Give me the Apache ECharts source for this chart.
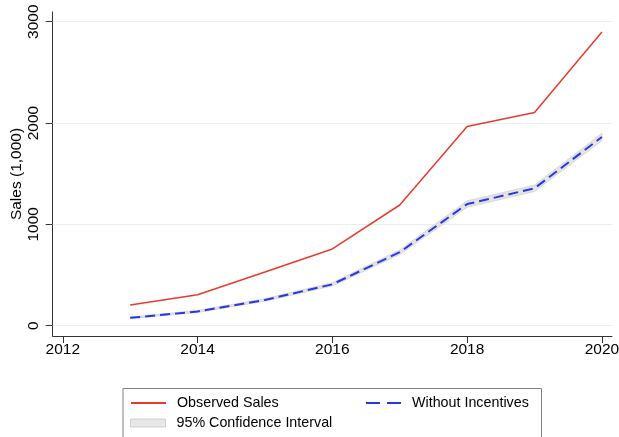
<!DOCTYPE html>
<html>
<head>
<meta charset="utf-8">
<script src="https://cdn.jsdelivr.net/npm/echarts@6/dist/echarts.min.js"></script>
<style>
  html, body { margin: 0; padding: 0; background: #fff; }
  #chart { width: 619px; height: 437px; }
</style>
</head>
<body>
<div id="chart"></div>
<script>
// Annual sales (thousands): observed vs. counterfactual without incentives
const years = [2013, 2014, 2015, 2016, 2017, 2018, 2019, 2020];
const observedSales = [205, 305, 530, 757, 1191, 1965, 2105, 2898];
const withoutIncentives = [77, 140, 254, 408, 725, 1200, 1356, 1862];
const ciLower = [70, 130, 242, 392, 702, 1168, 1325, 1825];
const ciUpper = [84, 150, 266, 424, 748, 1232, 1387, 1899];

const xTicks = [2012, 2014, 2016, 2018, 2020];
const yTicks = [0, 1000, 2000, 3000];

const FONT = '"Liberation Sans", Arial, Helvetica, sans-serif';
const RED = '#ea3a2d';
const BLUE = '#2637e6';

const pairs = (ys) => years.map((y, i) => [y, ys[i]]);

const chart = echarts.init(document.getElementById('chart'), null, { renderer: 'canvas' });

const legendBase = {
  orient: 'horizontal',
  itemWidth: 35,
  itemHeight: 14,
  itemGap: 0,
  padding: 0,
  selectedMode: false,
  textStyle: { fontFamily: FONT, fontSize: 14.3, color: '#000', lineHeight: 14, padding: [0, 0, 0, 6] }
};

// confidence band drawn as one polygon: upper edge forward, lower edge back
function renderBand(params, api) {
  if (params.dataIndex !== 0) return null;
  const upper = years.map((y, i) => api.coord([y, ciUpper[i]]));
  const lower = years.map((y, i) => api.coord([y, ciLower[i]])).reverse();
  return {
    type: 'polygon',
    shape: { points: upper.concat(lower) },
    style: { fill: '#e4e4e4', stroke: '#d2d2d2', lineWidth: 0.8 },
    silent: true
  };
}

chart.setOption({
  animation: false,
  backgroundColor: '#fff',
  grid: {
    left: 52.7, right: 7, top: 12, bottom: 101,
    containLabel: false,
    outerBoundsMode: 'none'
  },
  xAxis: {
    type: 'value',
    min: 2011.85,
    max: 2020.15,
    axisLine: { show: true, onZero: false, lineStyle: { color: '#333', width: 1 } },
    axisTick: { show: true, length: 7, customValues: xTicks, lineStyle: { color: '#333', width: 1 } },
    axisLabel: {
      customValues: xTicks,
      margin: 6,
      fontFamily: FONT, fontSize: 15.5, color: '#000',
      formatter: (v) => String(v)
    },
    splitLine: { show: false }
  },
  yAxis: {
    type: 'value',
    min: -102,
    max: 3096,
    name: 'Sales (1,000)',
    nameLocation: 'middle',
    nameGap: 28,
    nameMoveOverlap: false,
    nameRotate: 90,
    nameTextStyle: { fontFamily: FONT, fontSize: 15.5, color: '#000' },
    axisLine: { show: true, onZero: false, lineStyle: { color: '#333', width: 1 } },
    axisTick: { show: true, length: 7, customValues: yTicks, lineStyle: { color: '#333', width: 1 } },
    axisLabel: {
      customValues: yTicks,
      rotate: 90,
      margin: 11,
      fontFamily: FONT, fontSize: 15.5, color: '#000',
      formatter: (v) => String(v)
    },
    splitLine: { show: false }
  },
  legend: [
    Object.assign({}, legendBase, {
      left: 130, top: 396, data: ['Observed Sales'],
      itemStyle: { opacity: 0 }
    }),
    Object.assign({}, legendBase, {
      left: 365, top: 396, data: ['Without Incentives'],
      itemStyle: { opacity: 0 },
      lineStyle: { type: [14, 7], width: 2 }
    }),
    Object.assign({}, legendBase, {
      left: 130, top: 416, itemHeight: 8,
      data: [{
        name: '95% Confidence Interval',
        icon: 'rect',
        itemStyle: { color: '#e7e7e7', borderColor: '#cfcfcf', borderWidth: 1 }
      }]
    })
  ],
  graphic: [{
    type: 'rect',
    shape: { x: 123, y: 388.5, width: 418.5, height: 60 },
    style: { fill: 'none', stroke: '#808080', lineWidth: 1 },
    silent: true,
    z: 10
  }],
  series: [
    {
      // horizontal grid lines at the labelled y values
      name: 'grid',
      type: 'line',
      data: [],
      silent: true,
      z: 1,
      markLine: {
        symbol: 'none',
        silent: true,
        z: 1,
        animation: false,
        label: { show: false },
        emphasis: { disabled: true },
        lineStyle: { color: '#e8eff1', width: 1, type: 'solid' },
        data: yTicks.map((v) => ({ yAxis: v }))
      }
    },
    {
      name: '95% Confidence Interval',
      type: 'custom',
      renderItem: renderBand,
      data: years.map((y, i) => [y, ciLower[i], ciUpper[i]]),
      encode: { x: 0, y: [1, 2] },
      itemStyle: { color: '#e7e7e7' },
      silent: true,
      z: 2
    },
    {
      name: 'Without Incentives',
      type: 'line',
      data: pairs(withoutIncentives),
      symbol: 'none',
      lineStyle: { color: BLUE, width: 2, type: [10, 5] },
      itemStyle: { color: BLUE },
      z: 3
    },
    {
      name: 'Observed Sales',
      type: 'line',
      data: pairs(observedSales),
      symbol: 'none',
      lineStyle: { color: RED, width: 1.5 },
      itemStyle: { color: RED },
      z: 4
    }
  ]
});
</script>
</body>
</html>
